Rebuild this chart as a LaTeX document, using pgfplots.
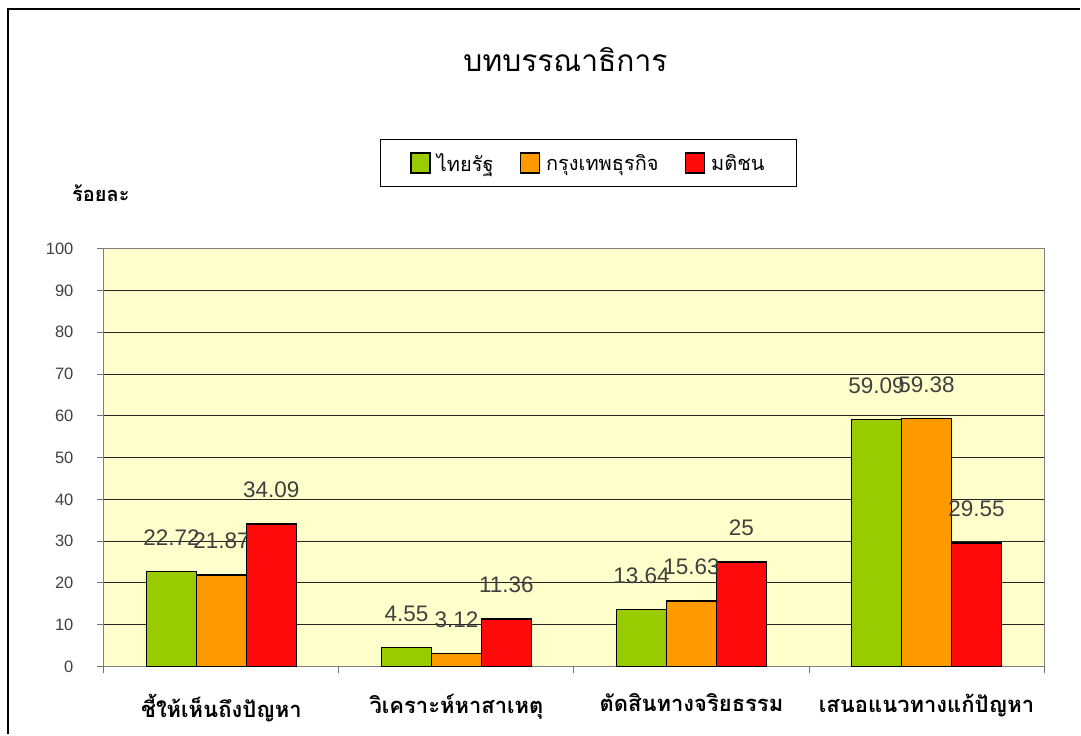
\documentclass[border=0pt]{standalone}
\usepackage{fontspec}
\usepackage{pgfplots}
\pgfplotsset{compat=1.18}
\setmainfont{Liberation Sans}
\newfontfamily\thaifont[Script=Thai]{Loma}
\definecolor{barG}{HTML}{99CC00}
\definecolor{barO}{HTML}{FF9900}
\definecolor{barR}{HTML}{FF0A0A}
\definecolor{plotbg}{HTML}{FFFFCC}
\definecolor{numg}{HTML}{404040}

\begin{document}
\begin{tikzpicture}
% page = 1081 x 735 px, 1px = 1pt
\fill[white] (0pt,0pt) rectangle (1081pt,735pt);
\draw[black, line width=2pt] (8pt,0pt) -- (8pt,726pt) -- (1081pt,726pt);

\node[font=\thaifont\fontsize{30}{34}\selectfont] at (566pt,675pt) {บทบรรณาธิการ};
\node[font=\thaifont\bfseries\fontsize{20}{24}\selectfont] at (101pt,542pt) {ร้อยละ};

\begin{axis}[
  at={(104pt,68pt)}, anchor=south west,
  scale only axis, width=941pt, height=418pt,
  ybar=0pt, bar width=50pt,
  xmin=-0.5, xmax=3.5, ymin=0, ymax=100,
  ytick={0,10,...,100},
  xtick={0,1,2,3},
  xticklabels={ชี้ให้เห็นถึงปัญหา, วิเคราะห์หาสาเหตุ, ตัดสินทางจริยธรรม, เสนอแนวทางแก้ปัญหา},
  minor xtick={-0.5,0.5,1.5,2.5,3.5},
  major x tick style={draw=none},
  tick align=outside, major tick length=7pt, minor tick length=7pt,
  tick style={black!55, line width=1pt},
  xtick pos=lower, ytick pos=left,
  axis line style={black!50, line width=1pt},
  axis background/.style={fill=plotbg},
  ymajorgrids, grid style={black!85, line width=0.8pt},
  xticklabel style={font=\thaifont\bfseries\fontsize{22}{26}\selectfont, yshift=-17pt},
  yticklabel style={font=\fontsize{16.5}{19}\selectfont, text=numg, xshift=-20pt},
  /pgf/number format/assume math mode=true,
  nodes near coords,
  every node near coord/.append style={font=\fontsize{22.5}{26}\selectfont, text=numg, anchor=center, yshift=34pt},
  legend columns=3,
  legend style={at={(0.5154,1.2057)}, anchor=center, draw=black, line width=1pt,
    fill=white, font=\thaifont\fontsize{20}{24}\selectfont,
    inner xsep=30pt, inner ysep=12pt,
    /tikz/every odd column/.append style={column sep=4pt},
    /tikz/every even column/.append style={column sep=24pt}},
  legend image code/.code={\draw[#1, draw=black, line width=1.6pt] (0pt,-10pt) rectangle (19pt,10pt);},
]
\addplot[fill=barG, draw=black, line width=1.6pt] coordinates {(0,22.72) (1,4.55) (2,13.64) (3,59.09)};
\addlegendentry{ไทยรัฐ}
\addplot[fill=barO, draw=black, line width=1.6pt] coordinates {(0,21.87) (1,3.12) (2,15.63) (3,59.38)};
\addlegendentry{กรุงเทพธุรกิจ}
\addplot[fill=barR, draw=black, line width=1.6pt] coordinates {(0,34.09) (1,11.36) (2,25) (3,29.55)};
\addlegendentry{มติชน}
\end{axis}
\end{tikzpicture}
\end{document}
